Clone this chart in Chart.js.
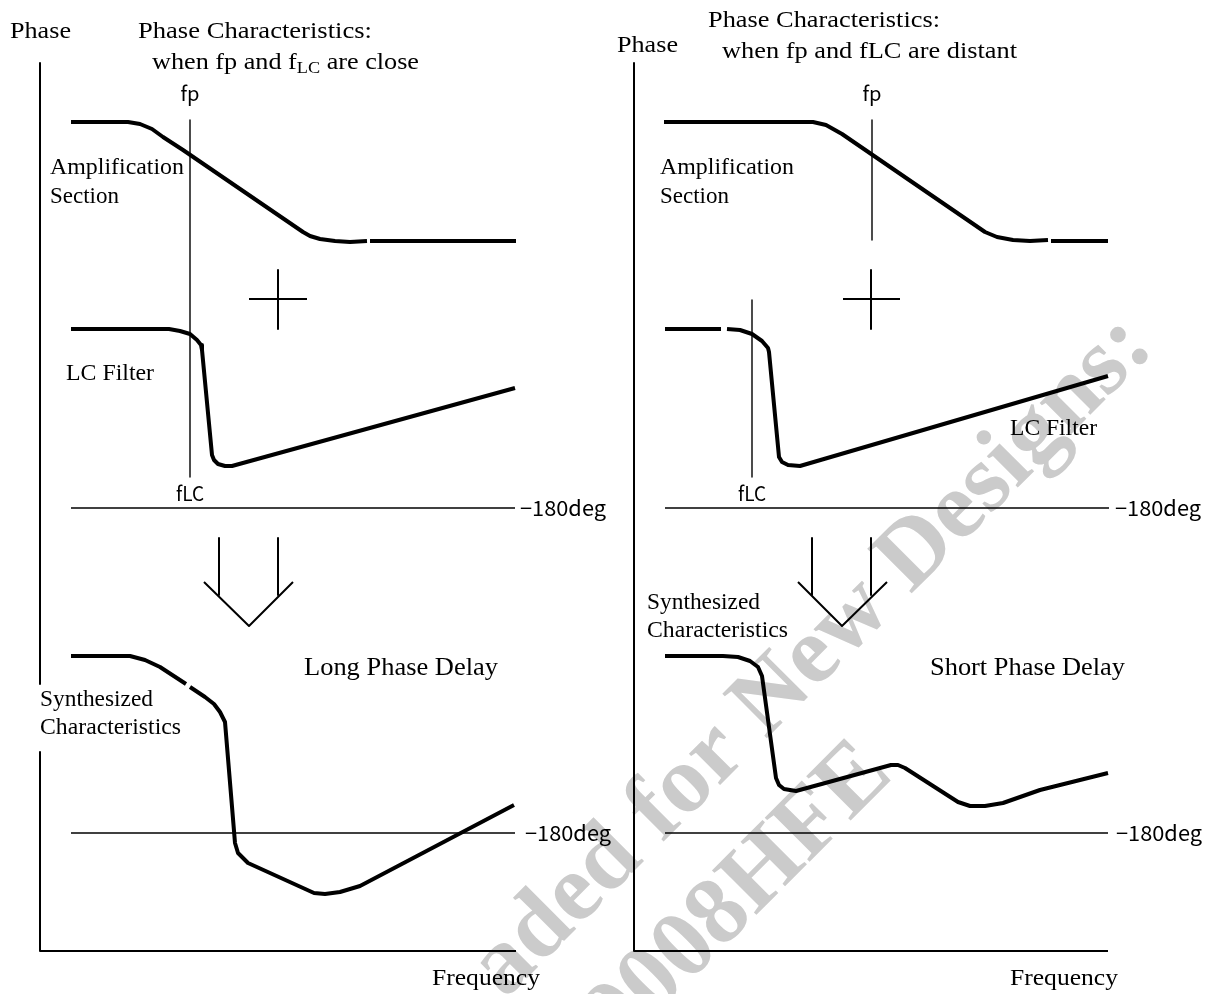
<!DOCTYPE html>
<html>
<head>
<meta charset="utf-8">
<script src="https://cdn.jsdelivr.net/npm/chart.js@4.4.1/dist/chart.umd.min.js"></script>
<style>
  html, body { margin: 0; padding: 0; background: #fff; }
  #wrap { position: relative; width: 1215px; height: 994px; }
</style>
</head>
<body>
<div id="wrap"><canvas id="phaseChart"></canvas></div>
<script>
// Diagram units: x = frequency axis position, y = phase axis position (both)

// ---- left panel: fp and fLC close ----
var ampCloseA   = [[71,122],[128,122],[140,124],[152,129],[163,137],[183,150],[303,232],[310,236],[320,239],[335,241],[350,242],[367,241]];
var ampCloseB   = [[370,241],[516,241]];
var lcClose     = [[71,329],[169,329],[180,331],[190,334],[197,340],[201,345],[202,350],[212,455],[214,460],[218,464],[225,466],[232,466],[515,388]];
var synthCloseA = [[71,656],[130,656],[145,660],[160,667],[186,684]];
var synthCloseB = [[190,687],[205,697],[214,704],[220,712],[225,722],[235,843],[238,853],[248,863],[314,893],[325,894],[340,892],[360,886],[514,805]];

// ---- right panel: fp and fLC distant ----
var ampFarA   = [[664,122],[813,122],[826,125],[842,134],[985,232],[997,237],[1013,240],[1030,241],[1048,240]];
var ampFarB   = [[1051,241],[1108,241]];
var lcFarA    = [[665,329],[721,329]];
var lcFarB    = [[727,329],[740,330],[752,334],[762,341],[768,348],[769,352],[779,457],[782,462],[788,465],[800,466],[1108,376]];
var synthFar  = [[665,656],[723,656],[738,657],[750,661],[758,667],[762,676],[776,778],[779,785],[784,789],[796,791],[891,765],[898,765],[905,768],[958,802],[970,806],[985,806],[1003,803],[1040,790],[1108,773]];

// ---- frame, reference lines and symbols ----
var axisLeftTop    = [[40,63],[40,684]];
var axisLeftBottom = [[40,752],[40,951],[516,951]];
var axisRight      = [[634,63],[634,951],[1108,951]];
var fpCloseLine    = [[190,120],[190,477]];
var fpFarLine      = [[872,120],[872,240]];
var fLcFarLine     = [[752,300],[752,477]];
var minus180 = [
  [[71,508],[515,508]], [[665,508],[1109,508]],
  [[71,833],[515,833]], [[665,833],[1108,833]]
];
var plusMarks = [
  [[249,299],[307,299]], [[278,270],[278,329]],
  [[843,299],[900,299]], [[871,270],[871,329]]
];
var arrowMarks = [
  [[219,538],[219,595]], [[278,538],[278,595]], [[204,582],[249,626],[293,582]],
  [[812,538],[812,595]], [[871,538],[871,595]], [[798,582],[842,626],[887,582]]
];

var serif = '"Liberation Serif", "Times New Roman", serif';
var gothic = '"Noto Sans CJK JP", "DejaVu Sans", sans-serif';

function pts(a) { return a.map(function (p) { return { x: p[0], y: p[1] }; }); }
function line(a, w) {
  return { data: pts(a), showLine: true, borderColor: '#000', borderWidth: w,
           pointRadius: 0, fill: false, tension: 0, borderJoinStyle: 'round', borderCapStyle: 'butt' };
}

var datasets = [];
[ampCloseA, ampCloseB, lcClose, synthCloseA, synthCloseB,
 ampFarA, ampFarB, lcFarA, lcFarB, synthFar].forEach(function (c) { datasets.push(line(c, 4)); });
[axisLeftTop, axisLeftBottom, axisRight].forEach(function (c) { datasets.push(line(c, 2)); });
[fpCloseLine, fpFarLine, fLcFarLine].concat(minus180).forEach(function (c) { datasets.push(line(c, 1.4)); });
plusMarks.concat(arrowMarks).forEach(function (c) { datasets.push(line(c, 2)); });

// text labels: [text, x, y, font, align, width]
var labels = [
  ['Phase', 10, 32, '23px ' + serif, 'left', 61],
  ['Phase Characteristics:', 138, 32, '23px ' + serif, 'left', 234],
  ['Phase Characteristics:', 708, 21, '23px ' + serif, 'left', 232],
  ['Phase', 617, 46, '23px ' + serif, 'left', 61],
  ['when fp and fLC are distant', 722, 52, '23px ' + serif, 'left', 295],
  ['fp', 190, 93, '20px ' + gothic, 'center', 19],
  ['fp', 872, 93, '20px ' + gothic, 'center', 19],
  ['Amplification', 50, 168, '23px ' + serif, 'left', 134],
  ['Section', 50, 197, '23px ' + serif, 'left', 0],
  ['Amplification', 660, 168, '23px ' + serif, 'left', 134],
  ['Section', 660, 197, '23px ' + serif, 'left', 0],
  ['LC Filter', 66, 374, '23px ' + serif, 'left', 88],
  ['LC Filter', 1010, 429, '23px ' + serif, 'left', 87],
  ['fLC', 190, 493, '20px ' + gothic, 'center', 28],
  ['fLC', 752, 493, '20px ' + gothic, 'center', 28],
  ['\u2212180deg', 520, 508, '21px ' + gothic, 'left', 86],
  ['\u2212180deg', 1115, 508, '21px ' + gothic, 'left', 86],
  ['\u2212180deg', 525, 833, '21px ' + gothic, 'left', 86],
  ['\u2212180deg', 1116, 833, '21px ' + gothic, 'left', 86],
  ['Long Phase Delay', 304, 668, '26px ' + serif, 'left', 194],
  ['Short Phase Delay', 930, 668, '26px ' + serif, 'left', 195],
  ['Synthesized', 40, 700, '23px ' + serif, 'left', 113],
  ['Characteristics', 40, 728, '23px ' + serif, 'left', 141],
  ['Synthesized', 647, 603, '23px ' + serif, 'left', 113],
  ['Characteristics', 647, 631, '23px ' + serif, 'left', 141],
  ['Frequency', 486, 979, '23px ' + serif, 'center', 108],
  ['Frequency', 1064, 979, '23px ' + serif, 'center', 108]
];

// watermark (only the part that shows in the picture):
// [text, x, y of a point on the text middle line, offset of text end along the line]
var watermark = [
  ['aded for New Designs:', 680, 790, 648],
  ['BD9008HFE', 764, 872, 160]
];

var textPlugin = {
  id: 'diagramText',
  beforeDatasetsDraw: function (chart) {
    var ctx = chart.ctx, sx = chart.scales.x, sy = chart.scales.y;
    var ang = -45 * Math.PI / 180;
    ctx.save();
    ctx.font = 'bold 96px ' + serif;
    ctx.fillStyle = '#cbcbcb';
    ctx.textBaseline = 'middle';
    ctx.textAlign = 'right';
    watermark.forEach(function (w) {
      var ex = w[1] + w[3] * Math.cos(ang), ey = w[2] + w[3] * Math.sin(ang);
      ctx.save();
      ctx.translate(sx.getPixelForValue(ex), sy.getPixelForValue(ey));
      ctx.rotate(ang);
      ctx.fillText(w[0], 0, 0);
      ctx.restore();
    });
    ctx.restore();
  },
  afterDatasetsDraw: function (chart) {
    var ctx = chart.ctx, sx = chart.scales.x, sy = chart.scales.y;
    ctx.save();
    ctx.fillStyle = '#000';
    ctx.textBaseline = 'middle';
    labels.forEach(function (l) {
      ctx.font = l[3];
      var px = sx.getPixelForValue(l[1]), py = sy.getPixelForValue(l[2]);
      var mw = ctx.measureText(l[0]).width;
      var k = l[5] ? l[5] / mw : 1;
      ctx.save();
      ctx.translate(px, py);
      ctx.scale(k, 1);
      ctx.textAlign = l[4];
      ctx.fillText(l[0], 0, 0);
      ctx.restore();
    });
    // "when fp and f_LC are close" with subscript
    var x0 = sx.getPixelForValue(152), y0 = sy.getPixelForValue(63);
    var big = '23px ' + serif, small = '16px ' + serif;
    var parts = [['when fp and f', big, 0], ['LC', small, 6], [' are close', big, 0]];
    var tot = 0;
    parts.forEach(function (p) { ctx.font = p[1]; tot += ctx.measureText(p[0]).width; });
    var k2 = 267 / tot;
    ctx.translate(x0, y0);
    ctx.scale(k2, 1);
    ctx.textAlign = 'left';
    var cx = 0;
    parts.forEach(function (p) {
      ctx.font = p[1];
      ctx.fillText(p[0], cx, p[2]);
      cx += ctx.measureText(p[0]).width;
    });
    ctx.restore();
  }
};

var ctx = document.getElementById('phaseChart').getContext('2d');
var chart = new Chart(ctx, {
  type: 'scatter',
  data: { datasets: datasets },
  options: {
    responsive: true,
    maintainAspectRatio: false,
    animation: false,
    layout: { padding: 0 },
    plugins: { legend: { display: false }, tooltip: { enabled: false } },
    scales: {
      x: { type: 'linear', min: 0, max: 1215, display: false },
      y: { type: 'linear', min: 0, max: 994, reverse: true, display: false }
    }
  },
  plugins: [textPlugin]
});
</script>
</body>
</html>
